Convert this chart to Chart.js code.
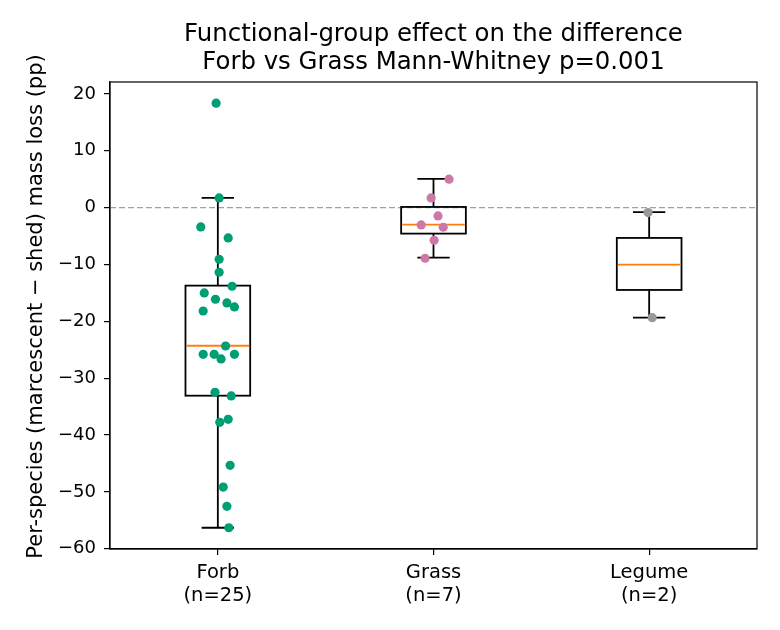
<!DOCTYPE html>
<html>
<head>
<meta charset="utf-8">
<script src="https://cdn.jsdelivr.net/npm/chart.js@4.4.0/dist/chart.umd.min.js"></script>
<style>
  html, body { margin: 0; padding: 0; background: #fff; }
</style>
</head>
<body>
<canvas id="box-chart" width="780" height="630"></canvas>
<script>
// ------------------------------------------------------
// @Data
// ------------------------------------------------------

const categories = ['Forb', 'Grass', 'Legume'];

const forbValues = [18.37, 1.71, -3.4, -5.33, -9.08, -11.37, -13.83, -15.01, -16.12, -16.77,
    -17.47, -18.18, -24.34, -25.8, -25.8, -26.62, -25.8, -32.48, -33.13, -37.24,
    -37.76, -45.33, -49.15, -52.55, -56.31];
const forbJitter = [-0.008, 0.006, -0.079, 0.048, 0.006, 0.006, 0.066, -0.063, -0.011, 0.042,
    0.077, -0.068, 0.036, -0.068, -0.017, 0.015, 0.077, -0.013, 0.062, 0.048,
    0.009, 0.057, 0.025, 0.042, 0.051];

const grassValues = [5.0, 1.71, -1.46, -3.04, -3.45, -5.74, -8.9];
const grassJitter = [0.072, -0.011, 0.021, -0.057, 0.045, 0.003, -0.039];

const legumeValues = [-0.87, -19.36];
const legumeJitter = [-0.005, 0.014];

// box statistics per group (Forb, Grass, Legume)
const boxQ1       = [-33.08, -4.57, -14.48];
const boxMedian   = [-24.3, -2.99, -10.03];
const boxQ3       = [-13.72, 0.12, -5.33];
const whiskerLow  = [-56.31, -8.8, -19.36];
const whiskerHigh = [1.71, 5.05, -0.8];

const yTicks = [-60, -50, -40, -30, -20, -10, 0, 10, 20];

const titleLines = ['Functional-group effect on the difference', 'Forb vs Grass Mann-Whitney p=0.001'];
const yLabel = 'Per-species (marcescent \u2212 shed) mass loss (pp)';

const groupValues = [forbValues, grassValues, legumeValues];
const groupJitter = [forbJitter, grassJitter, legumeJitter];
const groupColors = ['#009E73', '#CC79A7', '#999999'];

const FONT = 'DejaVu Sans';
const BOX_WIDTH = 0.3;

// ------------------------------------------------------
// @Box plot plugin
// ------------------------------------------------------

const boxPlotPlugin = {
    id: 'boxPlot',
    beforeDatasetsDraw(chart) {
        const { ctx, chartArea, scales: { x, y } } = chart;
        ctx.save();

        // dashed zero line
        const y0 = y.getPixelForValue(0);
        ctx.strokeStyle = '#a0a0a0';
        ctx.lineWidth = 1.3;
        ctx.setLineDash([6, 3]);
        ctx.beginPath();
        ctx.moveTo(chartArea.left, y0);
        ctx.lineTo(chartArea.right, y0);
        ctx.stroke();
        ctx.setLineDash([]);

        categories.forEach((cat, i) => {
            const xc = x.getPixelForValue(i);
            const half = x.getPixelForValue(i + BOX_WIDTH / 2) - xc;
            const cap = half / 2;
            const pq1 = y.getPixelForValue(boxQ1[i]);
            const pq3 = y.getPixelForValue(boxQ3[i]);
            const pmed = y.getPixelForValue(boxMedian[i]);
            const plo = y.getPixelForValue(whiskerLow[i]);
            const phi = y.getPixelForValue(whiskerHigh[i]);

            ctx.strokeStyle = '#000';
            ctx.lineWidth = 1.8;
            ctx.beginPath();
            ctx.moveTo(xc, pq3); ctx.lineTo(xc, phi);
            ctx.moveTo(xc - cap, phi); ctx.lineTo(xc + cap, phi);
            ctx.moveTo(xc, pq1); ctx.lineTo(xc, plo);
            ctx.moveTo(xc - cap, plo); ctx.lineTo(xc + cap, plo);
            ctx.stroke();
            ctx.strokeRect(xc - half, pq3, half * 2, pq1 - pq3);

            ctx.strokeStyle = '#ff7f0e';
            ctx.beginPath();
            ctx.moveTo(xc - half + 1, pmed);
            ctx.lineTo(xc + half - 1, pmed);
            ctx.stroke();
        });
        ctx.restore();
    },
    afterDraw(chart) {
        const { ctx, chartArea } = chart;
        ctx.save();
        // frame
        ctx.strokeStyle = '#000';
        ctx.lineWidth = 1.2;
        ctx.strokeRect(chartArea.left, chartArea.top,
            chartArea.right - chartArea.left, chartArea.bottom - chartArea.top);

        // title, centred over the axes
        ctx.fillStyle = '#000';
        ctx.textAlign = 'center';
        ctx.textBaseline = 'alphabetic';
        ctx.font = '24.4px "' + FONT + '"';
        const cx = (chartArea.left + chartArea.right) / 2;
        titleLines.forEach((line, i) => ctx.fillText(line, cx, 41 + i * 28));

        // y axis label
        ctx.font = '21px "' + FONT + '"';
        ctx.translate(42, 306.5);
        ctx.rotate(-Math.PI / 2);
        ctx.fillText(yLabel, 0, 0);
        ctx.restore();
    },
};

// ------------------------------------------------------
// @Chart
// ------------------------------------------------------

const datasets = categories.map((cat, i) => ({
    label           : cat,
    data            : groupValues[i].map((v, j) => ({ x: i + groupJitter[i][j], y: v })),
    backgroundColor : groupColors[i],
    borderWidth     : 0,
    pointRadius     : 4.6,
    pointHoverRadius: 4.6,
}));

new Chart(document.getElementById('box-chart').getContext('2d'), {
    type: 'scatter',
    data: { datasets },
    plugins: [boxPlotPlugin],
    options: {
        responsive: false,
        animation: false,
        events: [],
        layout: { padding: { left: 0, right: 23, top: 82, bottom: 0 } },
        plugins: {
            legend: { display: false },
            tooltip: { enabled: false },
            title: { display: false },
        },
        scales: {
            x: {
                type: 'linear',
                min: -0.5,
                max: 2.5,
                afterBuildTicks: (scale) => { scale.ticks = categories.map((c, i) => ({ value: i })); },
                afterFit: (scale) => { scale.height = 81; },
                grid: { display: true, drawOnChartArea: false, drawTicks: true, tickLength: 6, color: '#000', lineWidth: 1.2 },
                border: { display: true, color: '#000', width: 1.2 },
                ticks: {
                    color: '#000',
                    padding: 6,
                    maxRotation: 0,
                    font: { family: FONT, size: 19.5, lineHeight: 1.2 },
                    callback: (v) => [categories[v], '(n=' + groupValues[v].length + ')'],
                },
            },
            y: {
                min: -60.05,
                max: 22.1,
                afterBuildTicks: (scale) => { scale.ticks = yTicks.map((v) => ({ value: v })); },
                afterFit: (scale) => { scale.width = 110; },
                grid: { display: true, drawOnChartArea: false, drawTicks: true, tickLength: 6, color: '#000', lineWidth: 1.2 },
                border: { display: true, color: '#000', width: 1.2 },
                ticks: {
                    color: '#000',
                    padding: 8,
                    font: { family: FONT, size: 18 },
                    callback: (v) => (v < 0 ? '\u2212' + Math.abs(v) : String(v)),
                },
                title: { display: false },
            },
        },
    },
});
</script>
</body>
</html>
